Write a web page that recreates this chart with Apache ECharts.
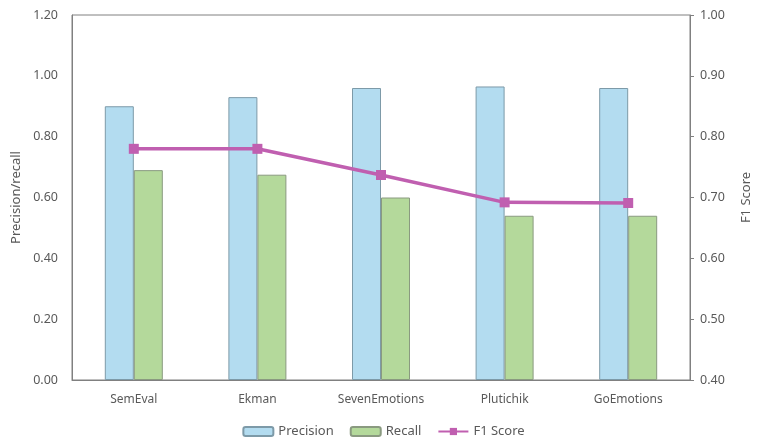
<!DOCTYPE html>
<html lang="en">
<head>
    <meta charset="UTF-8">
    <title>Precision / Recall / F1</title>
    <script src="https://cdn.jsdelivr.net/npm/echarts@6/dist/echarts.min.js"></script>
    <style>
        html, body { margin: 0; padding: 0; background: #fff; }
        #chart { width: 767px; height: 446px; }
    </style>
</head>
<body>
    <div id="chart"></div>
<script>
    // data
    var categories = ['SemEval', 'Ekman', 'SevenEmotions', 'Plutichik', 'GoEmotions'];
    var precision = [0.90, 0.93, 0.96, 0.965, 0.96];
    var recall = [0.69, 0.675, 0.60, 0.54, 0.54];
    var f1 = [0.78, 0.78, 0.737, 0.692, 0.691];

    var txt = '#595959';
    var font = 'Noto Sans';

    var myChart = echarts.init(document.getElementById('chart'));
    var option = {
        animation: false,
        textStyle: { fontFamily: font, color: txt },
        grid: {
            left: 72, right: 77, top: 15, bottom: 66,
            show: true, borderColor: '#808080', borderWidth: 1
        },
        legend: {
            bottom: 3,
            left: 'center',
            itemGap: 16,
            itemWidth: 30,
            itemHeight: 9,
            textStyle: { color: txt, fontSize: 13, fontFamily: font },
            data: ['Precision', 'Recall', 'F1 Score']
        },
        xAxis: {
            type: 'category',
            data: categories,
            axisLine: { lineStyle: { color: '#808080' } },
            axisTick: { show: false },
            axisLabel: { color: txt, fontSize: 12, margin: 14 }
        },
        yAxis: [{
            type: 'value',
            min: 0, max: 1.2, interval: 0.2,
            name: 'Precision/recall',
            nameLocation: 'middle',
            nameGap: 46,
            nameTextStyle: { color: txt, fontSize: 13 },
            splitLine: { show: false },
            axisLine: { show: true, lineStyle: { color: '#808080' } },
            axisTick: { show: false },
            axisLabel: { color: txt, fontSize: 12.5, margin: 14, formatter: function (v) { return v.toFixed(2); } }
        }, {
            type: 'value',
            min: 0.4, max: 1.0, interval: 0.1,
            name: 'F1 Score',
            nameLocation: 'middle',
            nameGap: 50,
            nameRotate: 90,
            nameTextStyle: { color: txt, fontSize: 13 },
            splitLine: { show: false },
            axisLine: { show: true, lineStyle: { color: '#808080' } },
            axisTick: { show: true, inside: false, length: 4, lineStyle: { color: '#808080' } },
            axisLabel: { color: txt, fontSize: 12.5, margin: 10, formatter: function (v) { return v.toFixed(2); } }
        }],
        series: [{
            name: 'Precision',
            type: 'bar',
            data: precision,
            barWidth: 29,
            barGap: '0%',
            itemStyle: { color: '#b3dcf0', borderColor: '#7d9aa8', borderWidth: 1 }
        }, {
            name: 'Recall',
            type: 'bar',
            data: recall,
            barWidth: 29,
            itemStyle: { color: '#b4d99b', borderColor: '#8a9a80', borderWidth: 1 }
        }, {
            name: 'F1 Score',
            type: 'line',
            yAxisIndex: 1,
            data: f1,
            symbol: 'rect',
            symbolSize: 10,
            lineStyle: { color: '#c05fb0', width: 3.5 },
            itemStyle: { color: '#c05fb0' }
        }]
    };
    myChart.setOption(option);
</script>
</body>
</html>
